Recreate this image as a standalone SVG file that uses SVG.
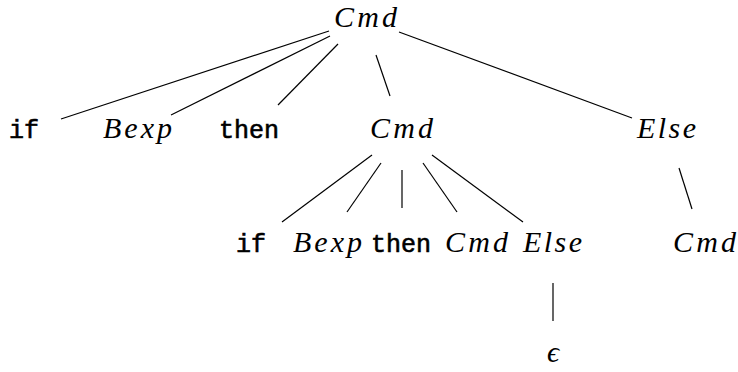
<svg xmlns="http://www.w3.org/2000/svg" width="738" height="372" viewBox="0 0 738 372">
<style>
.m{font-family:"Liberation Serif","DejaVu Serif",serif;font-style:italic;font-size:30px;fill:#000}
.t{font-family:"Liberation Mono","DejaVu Sans Mono",monospace;font-size:25px;fill:#000;stroke:#000;stroke-width:0.6}
.e line{stroke:#000;stroke-width:1.2}
</style>
<rect width="738" height="372" fill="#fff"/>
<g class="e" id="connectors">
<line x1="329" y1="31" x2="61" y2="119"/>
<line x1="330" y1="36" x2="171" y2="115"/>
<line x1="338" y1="44" x2="278" y2="105"/>
<line x1="376" y1="55" x2="390" y2="96"/>
<line x1="399" y1="32" x2="632" y2="118"/>
<line x1="372" y1="155" x2="282" y2="222"/>
<line x1="381" y1="163" x2="347" y2="212"/>
<line x1="402" y1="170" x2="402" y2="208"/>
<line x1="423" y1="163" x2="457" y2="212"/>
<line x1="432" y1="155" x2="523" y2="222"/>
<line x1="679" y1="168" x2="692" y2="209"/>
<line x1="553" y1="283" x2="553" y2="321"/>
</g>
<g id="n-cmd0"><text class="m" x="334" y="27" textLength="63" lengthAdjust="spacing">Cmd</text></g>
<g id="n-if1"><text class="t" x="9" y="138">if</text></g>
<g id="n-bexp1"><text class="m" x="103" y="138" textLength="69" lengthAdjust="spacing">Bexp</text></g>
<g id="n-then1"><text class="t" x="219" y="138">then</text></g>
<g id="n-cmd1"><text class="m" x="370" y="138" textLength="63" lengthAdjust="spacing">Cmd</text></g>
<g id="n-else1"><text class="m" x="637" y="138" textLength="59" lengthAdjust="spacing">Else</text></g>
<g id="n-if2"><text class="t" x="236" y="252">if</text></g>
<g id="n-bexp2"><text class="m" x="293" y="252" textLength="69" lengthAdjust="spacing">Bexp</text></g>
<g id="n-then2"><text class="t" x="371" y="252">then</text></g>
<g id="n-cmd2"><text class="m" x="445" y="252" textLength="63" lengthAdjust="spacing">Cmd</text></g>
<g id="n-else2"><text class="m" x="523" y="252" textLength="59" lengthAdjust="spacing">Else</text></g>
<g id="n-cmd3"><text class="m" x="673" y="252" textLength="63" lengthAdjust="spacing">Cmd</text></g>
<g id="n-eps"><text class="m" x="553" y="362" text-anchor="middle">ϵ</text></g>
</svg>
